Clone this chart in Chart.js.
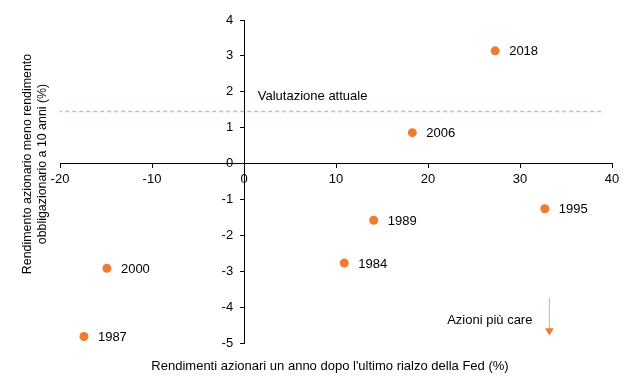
<!DOCTYPE html>
<html>
<head>
<meta charset="utf-8">
<script src="https://cdn.jsdelivr.net/npm/chart.js@4/dist/chart.umd.min.js"></script>
<style>
  html, body { margin: 0; padding: 0; background: #fff; }
  #wrap { width: 640px; height: 389px; }
</style>
</head>
<body>
<div id="wrap"><canvas id="c" width="640" height="389"></canvas></div>
<script>
// ---- data ----
const years = ['1984', '1987', '1989', '1995', '2000', '2006', '2018'];
const stockReturnAfterHike = [10.9, -17.4, 14.1, 32.7, -14.9, 18.3, 27.3];
const equityMinusBondYield = [-2.77, -4.82, -1.58, -1.26, -2.92, 0.86, 3.14];

const currentValuation = 1.45;           // "Valutazione attuale"
const currentValuationXRange = [-20.2, 39];
const arrowX = 33.2;
const arrowY = [-3.75, -4.66];

const xTicks = [-20, -10, 0, 10, 20, 30, 40];
const yTicks = [4, 3, 2, 1, 0, -1, -2, -3, -4, -5];

const xTitle = "Rendimenti azionari un anno dopo l'ultimo rialzo della Fed (%)";
const yTitle = ['Rendimento azionario meno rendimento', 'obbligazionario a 10 anni (%)'];
const annotations = [
  { text: 'Valutazione attuale', x: 1.5, y: 1.88, align: 'left' },
  { text: 'Azioni più care', x: 31.35, y: -4.36, align: 'right' }
];

const FONT = '"Liberation Sans", Arial, sans-serif';
const ORANGE = '#ED7D31';
const LIGHT_ORANGE = '#F4B183';

const points = years.map((y, i) => ({ x: stockReturnAfterHike[i], y: equityMinusBondYield[i], label: y }));

const textPlugin = {
  id: 'texts',
  afterDatasetsDraw(chart) {
    const ctx = chart.ctx;
    const xs = chart.scales.x, ys = chart.scales.y;
    ctx.save();
    ctx.font = '13px ' + FONT;
    ctx.fillStyle = '#000';
    ctx.textBaseline = 'middle';
    // point labels
    ctx.textAlign = 'left';
    points.forEach(p => {
      ctx.fillText(p.label, xs.getPixelForValue(p.x) + 14, ys.getPixelForValue(p.y) + 1);
    });
    // annotations
    annotations.forEach(a => {
      ctx.textAlign = a.align;
      ctx.fillText(a.text, xs.getPixelForValue(a.x), ys.getPixelForValue(a.y));
    });
    // axis titles
    ctx.textAlign = 'center';
    ctx.fillText(xTitle, 330, 366);
    ctx.save();
    ctx.font = '12.4px ' + FONT;
    ctx.translate(35.5, 164);
    ctx.rotate(-Math.PI / 2);
    ctx.fillText(yTitle[0], 0, -7.5);
    ctx.fillText(yTitle[1], 0, 7.5);
    ctx.restore();
    ctx.restore();
  }
};

new Chart(document.getElementById('c'), {
  type: 'scatter',
  data: {
    datasets: [
      {
        label: 'valutazione',
        type: 'line',
        data: currentValuationXRange.map(x => ({ x, y: currentValuation })),
        borderColor: LIGHT_ORANGE,
        borderWidth: 1.5,
        borderDash: [4, 3],
        pointRadius: 0,
        fill: false,
        order: 2
      },
      {
        label: 'freccia',
        type: 'line',
        data: arrowY.map(y => ({ x: arrowX, y })),
        borderColor: LIGHT_ORANGE,
        borderWidth: 1,
        pointRadius: [0, 5],
        pointStyle: 'triangle',
        rotation: 180,
        pointBackgroundColor: ORANGE,
        pointBorderColor: ORANGE,
        pointBorderWidth: 0,
        fill: false,
        order: 2
      },
      {
        label: 'anni',
        data: points,
        backgroundColor: ORANGE,
        borderColor: ORANGE,
        pointRadius: 4.5,
        pointBorderWidth: 0,
        order: 1
      }
    ]
  },
  options: {
    responsive: false,
    animation: false,
    layout: { padding: { left: 60, right: 28, top: 20, bottom: 46 } },
    plugins: { legend: { display: false }, tooltip: { enabled: false } },
    scales: {
      x: {
        type: 'linear',
        position: { y: 0 },
        min: -20, max: 40,
        afterBuildTicks: s => { s.ticks = xTicks.map(v => ({ value: v })); },
        grid: { display: true, drawOnChartArea: false, drawTicks: true, tickLength: 4, color: '#000' },
        border: { display: true, color: '#000', width: 1 },
        ticks: { color: '#000', font: { family: FONT, size: 13 }, padding: 4, maxRotation: 0 }
      },
      y: {
        type: 'linear',
        position: { x: 0 },
        min: -5, max: 4,
        afterBuildTicks: s => { s.ticks = yTicks.map(v => ({ value: v })); },
        grid: { display: true, drawOnChartArea: false, drawTicks: true, tickLength: 4, color: '#000' },
        border: { display: true, color: '#000', width: 1 },
        // labels of an axis placed at x = 0 are drawn flush with the axis; trailing spaces keep them clear of the tick marks
        ticks: { color: '#000', font: { family: FONT, size: 13 }, padding: 6, callback: v => v + '   ' }
      }
    }
  },
  plugins: [textPlugin]
});
</script>
</body>
</html>
